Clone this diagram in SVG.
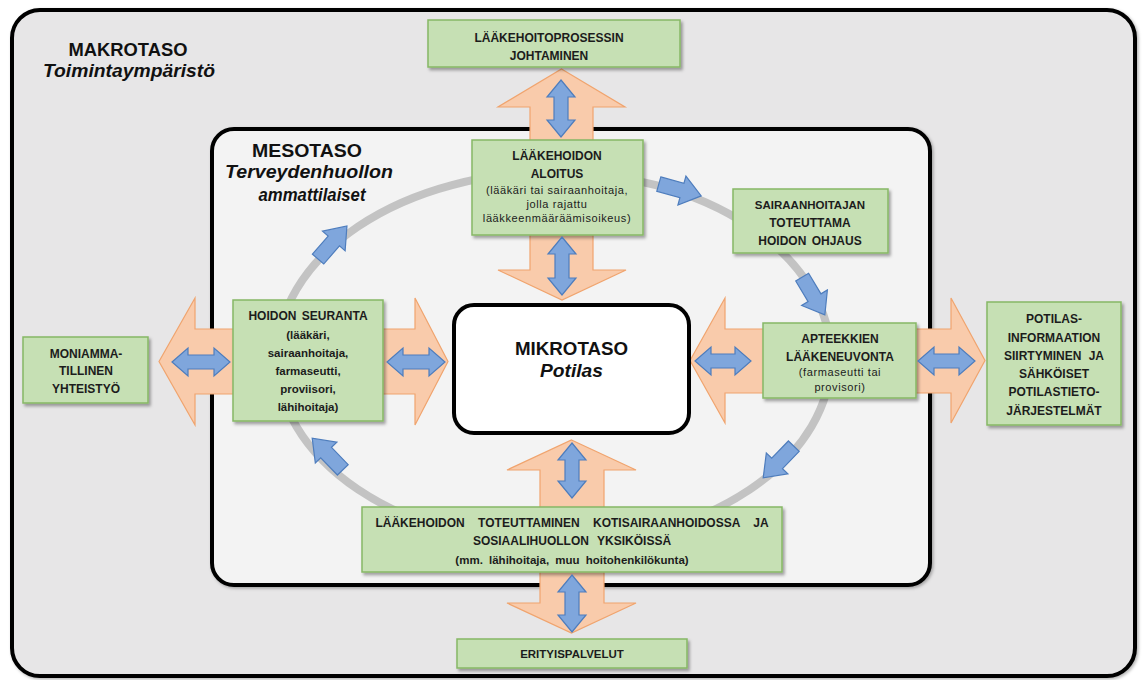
<svg xmlns="http://www.w3.org/2000/svg" xmlns:xlink="http://www.w3.org/1999/xlink" width="1144" height="680" viewBox="0 0 1144 680">
<style>
  text { font-family: "Liberation Sans", Arial, sans-serif; fill: #1c1c1c; text-anchor: middle; }
  .big { font-size: 18px; font-weight: bold; fill: #111; }
  .bigi { font-size: 18px; font-weight: bold; font-style: italic; fill: #111; }
  .t { font-size: 12px; font-weight: bold; }
  .tb { font-size: 11.5px; font-weight: bold; }
  .s { font-size: 11px; letter-spacing: 0.6px; }
  .box { fill: #c6e0b4; stroke: #86b865; stroke-width: 1.5; filter: url(#sh); }
  .or { fill: #f9cbab; stroke: #f0a46e; stroke-width: 1.2; }
  .bl { fill: #7fa6dc; stroke: #4e7dbd; stroke-width: 1.2; }
</style>
<defs>
  <filter id="sh" x="-10%" y="-10%" width="130%" height="140%">
    <feDropShadow dx="2" dy="2.5" stdDeviation="1.5" flood-color="#000" flood-opacity="0.35"/>
  </filter>
  <filter id="sh2" x="-5%" y="-5%" width="110%" height="110%">
    <feDropShadow dx="1.5" dy="1.5" stdDeviation="1.5" flood-color="#000" flood-opacity="0.3"/>
  </filter>
  <path id="ra" d="M-22,-7.5 L2,-7.5 L2,-15 L22,0 L2,15 L2,7.5 L-22,7.5 Z"/>
</defs>

<g id="makrotaso">
  <rect x="12" y="10" width="1123" height="666" rx="28" fill="#e7e6e7" stroke="#000" stroke-width="4" filter="url(#sh2)"/>
  <text class="big" x="128" y="56" textLength="119" lengthAdjust="spacingAndGlyphs">MAKROTASO</text>
  <text class="bigi" x="129" y="76.5" textLength="172" lengthAdjust="spacingAndGlyphs">Toimintaympäristö</text>
</g>

<g id="mesotaso">
  <rect x="212" y="129" width="718" height="456" rx="22" fill="#f3f3f3" stroke="#000" stroke-width="4" filter="url(#sh2)"/>
  <text class="big" x="307" y="157" textLength="110" lengthAdjust="spacingAndGlyphs">MESOTASO</text>
  <text class="bigi" x="309" y="178" textLength="168" lengthAdjust="spacingAndGlyphs">Terveydenhuollon</text>
  <text class="bigi" x="312" y="201" textLength="107" lengthAdjust="spacingAndGlyphs">ammattilaiset</text>
</g>

<g id="connectors">
  <ellipse cx="554" cy="358" rx="277" ry="186" fill="none" stroke="#c3c3c3" stroke-width="8"/>
  <use href="#ra" class="bl" transform="translate(332.5,242.5) rotate(-49)"/>
  <use href="#ra" class="bl" transform="translate(680,190) rotate(15.5)"/>
  <use href="#ra" class="bl" transform="translate(813.5,296) rotate(59)"/>
  <use href="#ra" class="bl" transform="translate(778.5,462) rotate(134)"/>
  <use href="#ra" class="bl" transform="translate(327.5,454) rotate(-134)"/>
  <path class="or" d="M561.5,69 L625,107 L593,107 L593,150 L530,150 L530,107 L498,107 Z"/>
  <path class="or" d="M530,225 L593,225 L593,270 L626,270 L562,300 L498,270 L530,270 Z"/>
  <path class="or" d="M571.5,440 L636,470 L604,470 L604,515 L540,515 L540,470 L507,470 Z"/>
  <path class="or" d="M540,565 L604,565 L604,603 L636,603 L571.5,633 L507,603 L540,603 Z"/>
  <path class="or" d="M159,361.5 L195,298 L195,329 L240,329 L240,394 L195,394 L195,425 Z"/>
  <path class="or" d="M375,329 L415,329 L415,298 L448,361.5 L415,425 L415,394 L375,394 Z"/>
  <path class="or" d="M690,360.5 L725,298 L725,329 L770,329 L770,393 L725,393 L725,423 Z"/>
  <path class="or" d="M910,329 L951,329 L951,298 L985,360.5 L951,423 L951,393 L910,393 Z"/>
</g>

<g id="mikrotaso">
  <rect x="454" y="305" width="235" height="128" rx="20" fill="#ffffff" stroke="#000" stroke-width="4"/>
  <text class="big" x="571.5" y="355" textLength="113" lengthAdjust="spacingAndGlyphs">MIKROTASO</text>
  <text class="bigi" x="571.5" y="377" textLength="63" lengthAdjust="spacingAndGlyphs">Potilas</text>
</g>

<g id="johtaminen">
  <rect class="box" x="428" y="20" width="252" height="47"/>
  <text class="t" x="549" y="42">LÄÄKEHOITOPROSESSIN</text>
  <text class="t" x="549" y="60">JOHTAMINEN</text>
</g>

<g id="aloitus">
  <rect class="box" x="472" y="140" width="171" height="95"/>
  <text class="t" x="557" y="160">LÄÄKEHOIDON</text>
  <text class="t" x="557" y="178">ALOITUS</text>
  <text class="s" x="557" y="194">(lääkäri tai sairaanhoitaja,</text>
  <text class="s" x="557" y="208">jolla rajattu</text>
  <text class="s" x="557" y="222">lääkkeenmääräämisoikeus)</text>
</g>

<g id="ohjaus">
  <rect class="box" x="733" y="189" width="155" height="64"/>
  <text class="t" x="810" y="209" style="font-size:11.5px">SAIRAANHOITAJAN</text>
  <text class="t" x="810" y="227">TOTEUTTAMA</text>
  <text class="t" x="810" y="245" word-spacing="2">HOIDON OHJAUS</text>
</g>

<g id="apteekit">
  <rect class="box" x="763" y="323" width="153" height="75"/>
  <text class="t" x="840" y="343">APTEEKKIEN</text>
  <text class="t" x="840" y="361">LÄÄKENEUVONTA</text>
  <text class="s" x="840" y="376">(farmaseutti tai</text>
  <text class="s" x="840" y="391">provisori)</text>
</g>

<g id="potilasinformaatio">
  <rect class="box" x="987" y="302" width="134" height="123"/>
  <text class="t" x="1054" y="323">POTILAS-</text>
  <text class="t" x="1054" y="342">INFORMAATION</text>
  <text class="t" x="1054" y="360" word-spacing="4">SIIRTYMINEN JA</text>
  <text class="t" x="1054" y="378">SÄHKÖISET</text>
  <text class="t" x="1054" y="396">POTILASTIETO-</text>
  <text class="t" x="1054" y="415">JÄRJESTELMÄT</text>
</g>

<g id="seuranta">
  <rect class="box" x="233" y="300" width="150" height="121"/>
  <text class="t" x="308" y="320" word-spacing="2">HOIDON SEURANTA</text>
  <text class="tb" x="308" y="339">(lääkäri,</text>
  <text class="tb" x="308" y="357">sairaanhoitaja,</text>
  <text class="tb" x="308" y="375">farmaseutti,</text>
  <text class="tb" x="308" y="393">proviisori,</text>
  <text class="tb" x="308" y="411">lähihoitaja)</text>
</g>

<g id="moniammatillinen">
  <rect class="box" x="23" y="337" width="125" height="66"/>
  <text class="t" x="86" y="358">MONIAMMA-</text>
  <text class="t" x="86" y="375">TILLINEN</text>
  <text class="t" x="86" y="393">YHTEISTYÖ</text>
</g>

<g id="toteuttaminen">
  <rect class="box" x="362" y="507" width="420" height="65"/>
  <text class="t" x="572" y="527" word-spacing="10">LÄÄKEHOIDON TOTEUTTAMINEN KOTISAIRAANHOIDOSSA JA</text>
  <text class="t" x="572" y="545" word-spacing="5">SOSIAALIHUOLLON YKSIKÖISSÄ</text>
  <text class="tb" x="572" y="564" word-spacing="3">(mm. lähihoitaja, muu hoitohenkilökunta)</text>
</g>

<g id="erityispalvelut">
  <rect class="box" x="457" y="639" width="230" height="29"/>
  <text class="tb" x="572" y="658">ERITYISPALVELUT</text>
</g>

<g id="blue-double-arrows">
  <path class="bl" d="M561,80 L575,97 L568,97 L568,120 L575,120 L561,137 L547,120 L554,120 L554,97 L547,97 Z"/>
  <path class="bl" d="M562,237 L576,254 L569,254 L569,278 L576,278 L562,295 L548,278 L555,278 L555,254 L548,254 Z"/>
  <path class="bl" d="M572,443 L586,460 L579,460 L579,481 L586,481 L572,498 L558,481 L565,481 L565,460 L558,460 Z"/>
  <path class="bl" d="M572,575 L586,592 L579,592 L579,615 L586,615 L572,632 L558,615 L565,615 L565,592 L558,592 Z"/>
  <path class="bl" d="M172,362 L188,348 L188,355 L214,355 L214,348 L230,362 L214,376 L214,369 L188,369 L188,376 Z"/>
  <path class="bl" d="M387,362 L403,348 L403,355 L429,355 L429,348 L445,362 L429,376 L429,369 L403,369 L403,376 Z"/>
  <path class="bl" d="M695,361 L711,347 L711,354 L735,354 L735,347 L751,361 L735,375 L735,368 L711,368 L711,375 Z"/>
  <path class="bl" d="M918,361 L934,347 L934,354 L959,354 L959,347 L975,361 L959,375 L959,368 L934,368 L934,375 Z"/>
</g>
</svg>
